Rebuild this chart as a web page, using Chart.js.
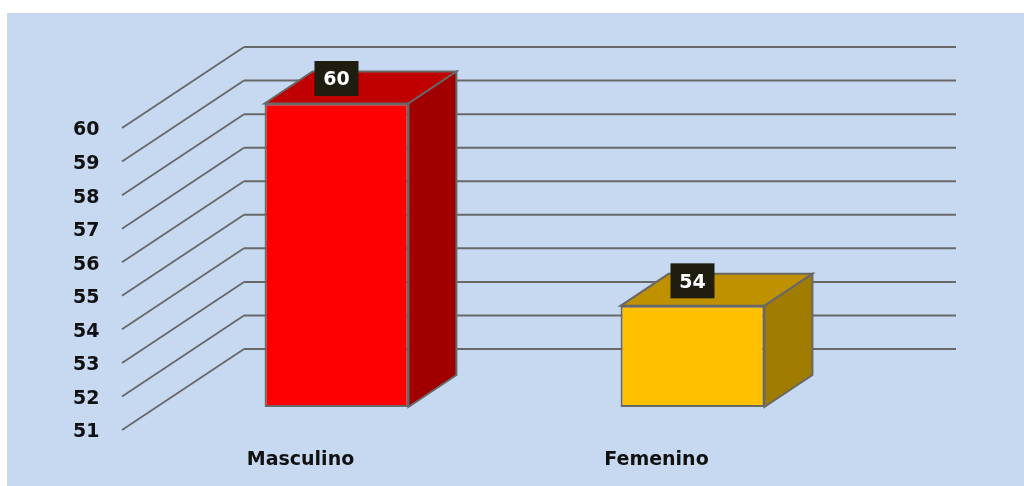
<!DOCTYPE html>
<html>
<head>
<meta charset="utf-8">
<script src="https://cdn.jsdelivr.net/npm/chart.js@4/dist/chart.umd.min.js"></script>
<style>
    html, body { margin: 0; padding: 0; background: #fff; overflow: hidden; }
    #panel { position: absolute; left: 7px; top: 13px; width: 1017px; height: 473px; background: #c6d9f1; }
    #edge { position: absolute; left: 7px; top: 13px; width: 1px; height: 473px; background: #d6d6cf; }
    #chart { position: absolute; left: 0; top: 0; }
</style>
</head>
<body>
<div id="panel"></div>
<div id="edge"></div>
<canvas id="chart" width="1024" height="486"></canvas>
<script>
const categories = ['Masculino', 'Femenino'];
const values = [60, 54];
const yTicks = [51, 52, 53, 54, 55, 56, 57, 58, 59, 60];
const frontColors = ['#ff0000', '#ffc000'];
const topColors = ['#c00000', '#bf9000'];
const sideColors = ['#a00000', '#a07c00'];

const lineColor = '#686868';
const labelFont = 'bold 19px "DejaVu Sans"';

// profundidad del efecto 3D, en pixeles
const floorDx = 122, floorDy = 81;
const barDx = 48, barDy = 32;
// las etiquetas del eje quedan un poco por debajo de su linea
const tickLabelDrop = 2.5;

function poly(ctx, pts, fill) {
    ctx.beginPath();
    pts.forEach((p, i) => i ? ctx.lineTo(p[0], p[1]) : ctx.moveTo(p[0], p[1]));
    ctx.closePath();
    ctx.fillStyle = fill;
    ctx.fill();
    ctx.lineWidth = 2;
    ctx.strokeStyle = lineColor;
    ctx.stroke();
}

// rejilla en perspectiva y caras superior / lateral de las barras
const depthPlugin = {
    id: 'depth',
    beforeDatasetsDraw(chart) {
        const ctx = chart.ctx;
        const tickScale = chart.scales.y2;
        const right = 956, front = 122;
        ctx.save();
        ctx.strokeStyle = lineColor;
        yTicks.forEach(v => {
            const py = tickScale.getPixelForValue(v) - tickLabelDrop;
            ctx.beginPath();
            ctx.moveTo(front, py);
            ctx.lineTo(front + floorDx, py - floorDy);
            ctx.lineWidth = 1.8;
            ctx.stroke();
            ctx.beginPath();
            ctx.moveTo(front + floorDx, py - floorDy);
            ctx.lineTo(right, py - floorDy);
            ctx.lineWidth = 2;
            ctx.stroke();
        });
        chart.getDatasetMeta(0).data.forEach((bar, i) => {
            const l = bar.x - bar.width / 2;
            const r = bar.x + bar.width / 2;
            const t = bar.y;
            const b = bar.base;
            poly(ctx, [[l, t], [r, t], [r + barDx, t - barDy], [l + barDx, t - barDy]], topColors[i]);
            poly(ctx, [[r, t], [r + barDx, t - barDy], [r + barDx, b - barDy], [r, b]], sideColors[i]);
        });
        ctx.restore();
    },
    afterDatasetsDraw(chart) {
        const ctx = chart.ctx;
        ctx.save();
        chart.getDatasetMeta(0).data.forEach((bar, i) => {
            const cy = bar.y - 25;
            ctx.fillStyle = '#1f1c10';
            ctx.fillRect(bar.x - 22, cy - 17.5, 44, 35);
            ctx.fillStyle = '#ffffff';
            ctx.font = labelFont;
            ctx.textAlign = 'center';
            ctx.textBaseline = 'middle';
            ctx.fillText(String(values[i]), bar.x, cy + 2);
        });
        ctx.restore();
    }
};

new Chart(document.getElementById('chart'), {
    type: 'bar',
    data: {
        labels: categories,
        datasets: [{
            data: values,
            base: 51,
            yAxisID: 'y',
            backgroundColor: frontColors,
            borderColor: lineColor,
            borderWidth: 2,
            borderSkipped: false,
            barPercentage: 0.404,
            categoryPercentage: 1
        }]
    },
    plugins: [depthPlugin],
    options: {
        responsive: false,
        animation: false,
        events: [],
        layout: { padding: { top: 47, right: 153.5, left: 0, bottom: 0 } },
        plugins: {
            legend: { display: false },
            tooltip: { enabled: false }
        },
        scales: {
            x: {
                grid: { display: false },
                border: { display: false },
                afterFit: scale => {
                    scale.height = 56;
                    scale.paddingLeft = 0;
                    scale.paddingRight = 0;
                },
                ticks: {
                    font: { family: 'DejaVu Sans', weight: 'bold', size: 19 },
                    color: '#111111',
                    padding: 11,
                    labelOffset: -36,
                    maxRotation: 0
                }
            },
            // plano de las barras
            y: {
                display: false,
                min: 50.318,
                max: 61.676
            },
            // plano frontal del piso, donde van las etiquetas
            y2: {
                position: 'left',
                min: 51.0745,
                max: 62.49,
                grid: { display: false },
                border: { display: false },
                afterFit: scale => {
                    scale.width = 158.5;
                    scale.paddingTop = 0;
                    scale.paddingBottom = 0;
                },
                afterBuildTicks: scale => {
                    scale.ticks = yTicks.map(v => ({ value: v }));
                },
                ticks: {
                    font: { family: 'DejaVu Sans', weight: 'bold', size: 19 },
                    color: '#111111',
                    padding: 51,
                    autoSkip: false
                }
            }
        }
    }
});
</script>
</body>
</html>
